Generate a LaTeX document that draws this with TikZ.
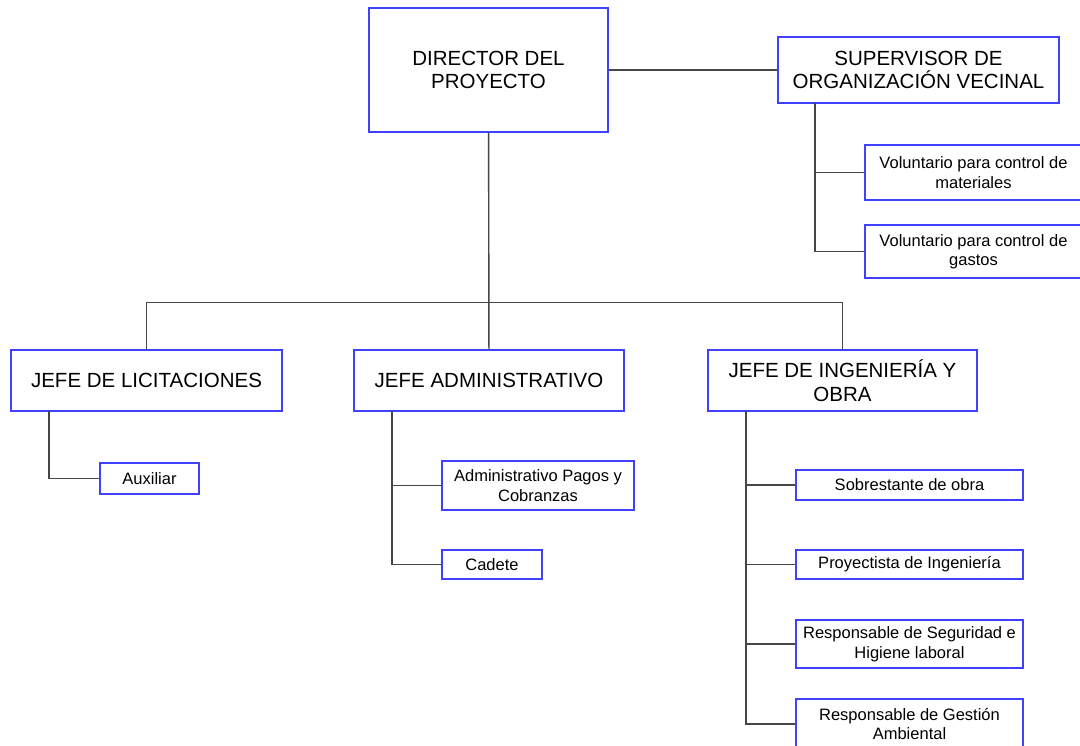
\documentclass[tikz,border=0pt]{standalone}
\usepackage{fontspec}
\setmainfont{Liberation Sans}
\usepackage{xcolor}
\usepackage{tikz}
\definecolor{boxblue}{RGB}{64,64,255}
\definecolor{linegray}{RGB}{70,70,70}

\begin{document}
\begin{tikzpicture}[x=1pt, y=-1pt,
  bigbox/.style={draw=boxblue, line width=1.4pt, fill=white, align=center, inner sep=0pt,
    font=\fontsize{20.5}{23.5}\selectfont},
  smallbox/.style={draw=boxblue, line width=1.4pt, fill=white, align=center, inner sep=0pt,
    font=\fontsize{16.5}{19.5}\selectfont},
  link/.style={draw=linegray, line width=1.4pt}]
  \useasboundingbox[fill=white] (0,0) rectangle (1080,746);
  % top level
  \node[bigbox, minimum width=239, minimum height=124] (dir) at (488.5,70) {DIRECTOR DEL\\PROYECTO};
  \node[bigbox, minimum width=281, minimum height=66] (sup) at (918.5,70) {SUPERVISOR DE\\ORGANIZACIÓN VECINAL};
  \node[smallbox, minimum width=217, minimum height=55] (mat) at (973.5,172.5) {Voluntario para control de\\materiales};
  \node[smallbox, minimum width=217, minimum height=53] (gas) at (973.5,251.5) {Voluntario para control de\\gastos};
  % jefes
  \node[bigbox, minimum width=271, minimum height=61] (lic) at (146.5,380.5) {JEFE DE LICITACIONES};
  \node[bigbox, minimum width=270, minimum height=61] (adm) at (489,380.5) {JEFE ADMINISTRATIVO};
  \node[bigbox, minimum width=269, minimum height=61] (ing) at (842.5,380.5) {JEFE DE INGENIERÍA Y\\OBRA};
  % staff
  \node[smallbox, minimum width=99, minimum height=31] (aux) at (149.5,478.5) {Auxiliar};
  \node[smallbox, minimum width=192, minimum height=49] (pag) at (538,485.5) {Administrativo Pagos y\\Cobranzas};
  \node[smallbox, minimum width=100, minimum height=29] (cad) at (492,564.5) {Cadete};
  \node[smallbox, minimum width=227, minimum height=30] (sob) at (909.5,485) {Sobrestante de obra};
  \node[smallbox, minimum width=227, minimum height=29] (pro) at (909.5,564.5) {Proyectista de Ingeniería};
  \node[smallbox, minimum width=227, minimum height=48] (seg) at (909.5,644) {Responsable de Seguridad e\\Higiene laboral};
  \node[smallbox, minimum width=227, minimum height=50] (amb) at (909.5,724) {Responsable de Gestión\\Ambiental};

  \coordinate (supdrop) at (815,103);
  \coordinate (licdrop) at (49,411);
  \coordinate (admdrop) at (392,411);
  \coordinate (ingdrop) at (746,411);

  \draw[link] (dir) -- (sup);
  \draw[link] (dir) -- (adm);
  \draw[link] (lic.north) -- ++(0,-47) -| (ing.north);
  \foreach \n in {mat, gas} \draw[link] (supdrop) |- (\n);
  \draw[link] (licdrop) |- (aux);
  \foreach \n in {pag, cad} \draw[link] (admdrop) |- (\n);
  \foreach \n in {sob, pro, seg, amb} \draw[link] (ingdrop) |- (\n);
\end{tikzpicture}
\end{document}
